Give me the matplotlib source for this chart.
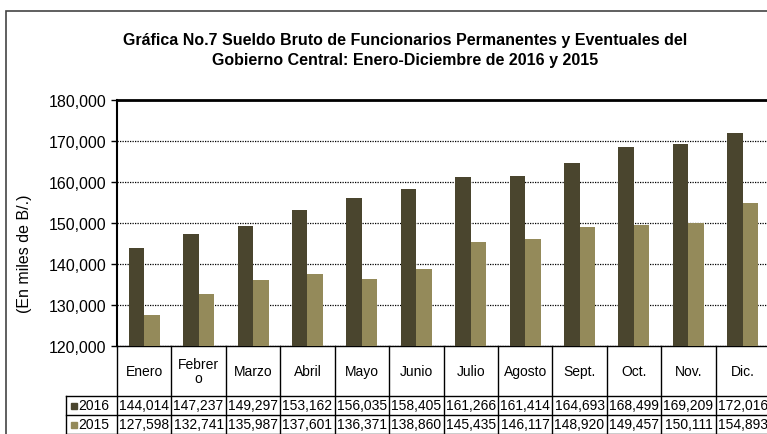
import matplotlib.pyplot as plt
from matplotlib.patches import Rectangle

plt.rcParams['font.family'] = ['Liberation Sans', 'DejaVu Sans']

# Datos
meses = ['Enero', 'Febrer\no', 'Marzo', 'Abril', 'Mayo', 'Junio', 'Julio',
         'Agosto', 'Sept.', 'Oct.', 'Nov.', 'Dic.']
v2016 = [144014, 147237, 149297, 153162, 156035, 158405, 161266,
         161414, 164693, 168499, 169209, 172016]
v2015 = [127598, 132741, 135987, 137601, 136371, 138860, 145435,
         146117, 148920, 149457, 150111, 154893]
series = ['2016', '2015']
colores = ['#4a452e', '#948a5a']

fig = plt.figure(figsize=(7.67, 4.35), dpi=100)
fig.patches.append(Rectangle((6 / 767, -0.1), 1.1, 1 - 12 / 435 + 0.1,
                             transform=fig.transFigure, fill=False,
                             edgecolor='#444444', linewidth=1.2))

ax = fig.add_axes([117 / 767, 1 - 347 / 435, 653 / 767, 246 / 435])
x = list(range(len(meses)))
w = 0.285
ax.bar([i - w / 2 for i in x], v2016, width=w, color=colores[0], zorder=3)
ax.bar([i + w / 2 for i in x], v2015, width=w, color=colores[1], zorder=3)

ax.set_xlim(-0.5, len(meses) - 0.5)
ax.set_ylim(120000, 180000)
ax.set_yticks(range(120000, 180001, 10000))
ax.yaxis.set_major_formatter(plt.FuncFormatter(lambda v, p: f'{int(v):,}'))
ax.tick_params(axis='y', labelsize=11.5, length=4, width=1)
ax.set_xticks([])
ax.grid(axis='y', color='black', linestyle=(0, (1, 1)), linewidth=0.9, zorder=0)
for s in ['right', 'bottom']:
    ax.spines[s].set_visible(False)
ax.spines['top'].set_linewidth(2)
ax.spines['left'].set_linewidth(1.5)

ax.set_ylabel('(En miles de B/.)', fontsize=11.5)
ax.yaxis.set_label_coords(-0.13, 0.38)

fig.suptitle('Gráfica No.7 Sueldo Bruto de Funcionarios Permanentes y Eventuales del\n'
             'Gobierno Central: Enero-Diciembre de 2016 y 2015',
             fontsize=11.5, fontweight='bold', x=0.528, y=0.923, linespacing=1.4)

# Tabla de datos bajo el eje
tr = ax.get_xaxis_transform()
y_head = -50 / 246
y_r1 = -69 / 246
y_r2 = -88 / 246
x_leg = -0.5 - 51 / 54.4
kw = dict(color='black', linewidth=1, transform=tr, clip_on=False)
ax.plot([-0.5, 11.5], [0, 0], **kw)
ax.plot([x_leg, 11.5], [y_head, y_head], **kw)
ax.plot([x_leg, 11.5], [y_r1, y_r1], **kw)
ax.plot([x_leg, 11.5], [y_r2, y_r2], **kw)
ax.plot([x_leg, x_leg], [y_head, y_r2], **kw)
for i in range(len(meses) + 1):
    ax.plot([i - 0.5, i - 0.5], [0, y_r2], **kw)

for i, m in enumerate(meses):
    ax.text(i, y_head / 2, m, transform=tr, ha='center', va='center',
            fontsize=10, linespacing=1.0)
    ax.text(i, (y_head + y_r1) / 2, f'{v2016[i]:,}', transform=tr,
            ha='center', va='center', fontsize=10)
    ax.text(i, (y_r1 + y_r2) / 2, f'{v2015[i]:,}', transform=tr,
            ha='center', va='center', fontsize=10)

for yy, nombre, c in [((y_head + y_r1) / 2, series[0], colores[0]),
                      ((y_r1 + y_r2) / 2, series[1], colores[1])]:
    ax.plot([x_leg + 0.15], [yy], marker='s', markersize=5, color=c,
            linestyle='none', transform=tr, clip_on=False)
    ax.text(x_leg + 0.23, yy, nombre, transform=tr, ha='left', va='center',
            fontsize=10)

fig.savefig('out.png', dpi=100)
